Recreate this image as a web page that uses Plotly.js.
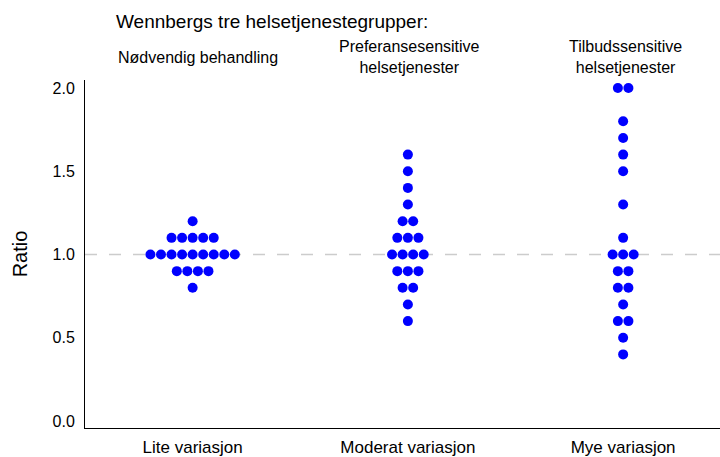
<!DOCTYPE html>
<html>
<head>
<meta charset="utf-8">
<script src="https://cdn.plot.ly/plotly-3.0.1.min.js"></script>
<style>
  html, body { margin: 0; padding: 0; background: #fff; }
  #chart { width: 720px; height: 457px; }
</style>
</head>
<body>
<div id="chart"></div>
<script>
// ── Data ─────────────────────────────────────────────────────────────────

const categories = ['Lite variasjon', 'Moderat variasjon', 'Mye variasjon'];
const groupHeaders = ['Nødvendig behandling', 'Preferansesensitive<br>helsetjenester', 'Tilbudssensitive<br>helsetjenester'];

const liteValues = [
  1.2,
  1.1, 1.1, 1.1, 1.1, 1.1,
  1.0, 1.0, 1.0, 1.0, 1.0, 1.0, 1.0, 1.0, 1.0,
  0.9, 0.9, 0.9, 0.9,
  0.8,
];
const moderatValues = [
  1.6, 1.5, 1.4, 1.3,
  1.2, 1.2,
  1.1, 1.1, 1.1,
  1.0, 1.0, 1.0, 1.0,
  0.9, 0.9, 0.9,
  0.8, 0.8,
  0.7, 0.6,
];
const myeValues = [
  2.0, 2.0,
  1.8, 1.7, 1.6, 1.5, 1.3, 1.1,
  1.0, 1.0, 1.0,
  0.9, 0.9,
  0.8, 0.8,
  0.7,
  0.6, 0.6,
  0.5, 0.4,
];

const groups = [liteValues, moderatValues, myeValues];

// ── Dot stacking (side by side for equal values) ─────────────────────────

const DOT_STEP = 0.049; // category units between neighbouring dots

function swarm(values, center) {
  const counts = {};
  values.forEach(v => { counts[v.toFixed(2)] = (counts[v.toFixed(2)] || 0) + 1; });
  const seen = {};
  const xs = [], ys = [];
  values.forEach(v => {
    const k = v.toFixed(2);
    const i = seen[k] || 0;
    seen[k] = i + 1;
    xs.push(center + (i - (counts[k] - 1) / 2) * DOT_STEP);
    ys.push(v);
  });
  return { xs, ys };
}

const traces = groups.map((vals, gi) => {
  const s = swarm(vals, gi);
  return {
    x: s.xs, y: s.ys,
    type: 'scatter', mode: 'markers',
    marker: { color: '#0000ff', size: 10, line: { width: 0 } },
    hoverinfo: 'y', showlegend: false,
  };
});

// ── Layout ───────────────────────────────────────────────────────────────

const FONT = '"Liberation Sans", Arial, sans-serif';
const plotTop = 80, plotBottom = 428;
const pyToPaper = py => (plotBottom - py) / (plotBottom - plotTop);

const annotations = groupHeaders.map((t, i) => ({
  text: t, x: i, xref: 'x', xshift: i === 0 ? 5 : 2,
  y: pyToPaper(57), yref: 'paper', yanchor: 'middle',
  showarrow: false, font: { family: FONT, size: 16, color: '#000' },
}));

annotations.push({
  text: 'Wennbergs tre helsetjenestegrupper:',
  xref: 'paper', yref: 'paper', x: (114 - 85) / 635, xanchor: 'left',
  y: pyToPaper(21), yanchor: 'middle',
  showarrow: false, font: { family: FONT, size: 19, color: '#000' },
});

const layout = {
  width: 720, height: 457,
  margin: { l: 85, r: 0, t: plotTop, b: 457 - plotBottom },
  paper_bgcolor: '#fff', plot_bgcolor: '#fff',
  font: { family: FONT, size: 14, color: '#000' },
  xaxis: {
    range: [-0.5, 2.45],
    tickmode: 'array', tickvals: [0, 1, 2], ticktext: categories,
    showgrid: false, zeroline: false,
    showline: true, linecolor: '#000', linewidth: 1,
    ticks: '', ticklabelstandoff: 4,
    tickfont: { family: FONT, size: 17, color: '#000' },
  },
  yaxis: {
    range: [-0.042, 2.048],
    tickvals: [0, 0.5, 1, 1.5, 2], tickformat: '.1f',
    showgrid: false, zeroline: false,
    showline: true, linecolor: '#000', linewidth: 1,
    ticks: '', ticklabelstandoff: 6,
    tickfont: { family: FONT, size: 16, color: '#000' },
    title: { text: 'Ratio', font: { family: FONT, size: 20, color: '#000' }, standoff: 19 },
  },
  shapes: [{
    type: 'line', xref: 'paper', x0: 0, x1: 1, yref: 'y', y0: 1, y1: 1,
    line: { color: '#cccccc', width: 1.5, dash: '12px,12px' },
    layer: 'below',
  }],
  annotations,
};

Plotly.newPlot('chart', traces, layout, { displayModeBar: false, staticPlot: true });
</script>
</body>
</html>
